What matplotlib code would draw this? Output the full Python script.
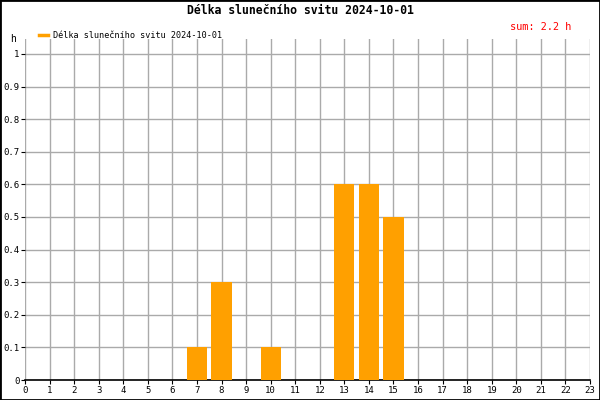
import matplotlib
matplotlib.use("Agg")
import matplotlib.pyplot as plt
from matplotlib.patches import Rectangle
from matplotlib.lines import Line2D

hours = list(range(24))
sunshine = [0, 0, 0, 0, 0, 0, 0, 0.1, 0.3, 0, 0.1, 0, 0, 0.6, 0.6, 0.5,
            0, 0, 0, 0, 0, 0, 0, 0]
title = "Délka slunečního svitu 2024-10-01"
legend_label = "Délka slunečního svitu 2024-10-01"
yticks = [0, 0.1, 0.2, 0.3, 0.4, 0.5, 0.6, 0.7, 0.8, 0.9, 1]
ytick_labels = ["0", "0.1", "0.2", "0.3", "0.4", "0.5", "0.6", "0.7", "0.8", "0.9", "1"]

plt.rcParams['font.family'] = ['DejaVu Sans Mono']

fig = plt.figure(figsize=(6, 4), dpi=100)
ax = fig.add_axes([25/600, 20/400, 565/600, 341/400])

ax.bar(hours, sunshine, width=0.82, color='#ffa000', zorder=3)
ax.set_xlim(0, 23)
ax.set_ylim(0, 1.046)
ax.set_xticks(hours)
ax.set_xticklabels([str(h) for h in hours])
ax.set_yticks(yticks)
ax.set_yticklabels(ytick_labels)
ax.grid(True, color='#aaaaaa', linewidth=1, zorder=0)
ax.set_axisbelow(True)
for s in ['left', 'right', 'top']:
    ax.spines[s].set_visible(False)
ax.spines['bottom'].set_color('black')
ax.spines['bottom'].set_linewidth(1.2)
ax.tick_params(axis='both', labelsize=6.5, length=3, width=0.8, pad=1,
               direction='out', colors='black')

fig.text(0.5, 1 - 11/400, title, ha='center', va='center',
         fontsize=8.3, fontweight='bold')
fig.text(571/600, 1 - 27/400, "sum: 2.2 h", ha='right', va='center',
         fontsize=7.4, color='red')
fig.text(13/600, 1 - 39/400, "h", ha='center', va='center', fontsize=7)

handle = Line2D([0], [1], color='#ffa000', linewidth=2.5)
fig.legend([handle], [legend_label], loc='upper left',
           bbox_to_anchor=(39/600, 1 - 31/400), frameon=False,
           fontsize=6.1, handlelength=1.1, handletextpad=0.5,
           borderaxespad=0, borderpad=0)

fig.patches.append(Rectangle((0, 0), 1, 1, transform=fig.transFigure,
                             fill=False, edgecolor='black', linewidth=2))

fig.savefig("out.png", dpi=100)
